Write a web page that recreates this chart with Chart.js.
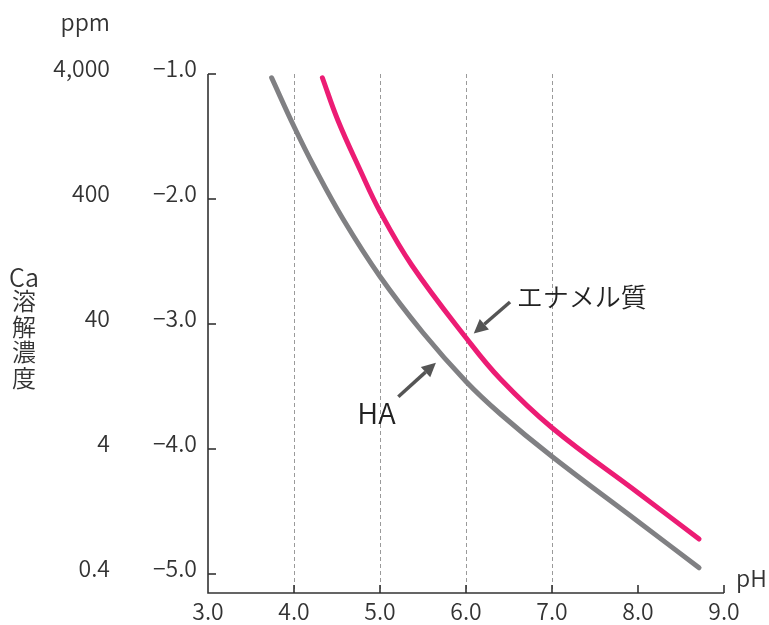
<!DOCTYPE html>
<html>
<head>
<meta charset="utf-8">
<script src="https://cdn.jsdelivr.net/npm/chart.js@4/dist/chart.umd.min.js"></script>
<style>
html,body{margin:0;padding:0;background:#fff;}
#c{display:block;}
</style>
</head>
<body>
<canvas id="c" width="769" height="625"></canvas>
<script>
// ---- data ----
const haPH   = [3.74, 4.0, 4.24, 4.57, 5.0, 5.5, 6.0, 6.4, 7.0, 8.0, 8.71];
const haLog  = [-1.03, -1.42, -1.75, -2.16, -2.62, -3.07, -3.46, -3.72, -4.06, -4.58, -4.95];
const enPH   = [4.33, 4.51, 4.77, 5.0, 5.37, 6.0, 6.4, 7.0, 8.0, 8.71];
const enLog  = [-1.03, -1.37, -1.77, -2.10, -2.53, -3.11, -3.44, -3.83, -4.35, -4.72];
const xTickValues = [3, 4, 5, 6, 7, 8, 9];
const xTickLabels = ['3.0', '4.0', '5.0', '6.0', '7.0', '8.0', '9.0'];
const yTickValues = [-1, -2, -3, -4, -5];
const yTickLabels = ['\u22121.0', '\u22122.0', '\u22123.0', '\u22124.0', '\u22125.0'];
const ppmLabels   = ['4,000', '400', '40', '4', '0.4'];
const dashedX     = [4, 5, 6, 7];
const seriesNames = ['HA', 'エナメル質'];
const yAxisTitle  = ['Ca', '溶', '解', '濃', '度'];

const FONT = '"Noto Sans CJK JP", "Noto Sans", sans-serif';
const TXT = '#333333';
const W8 = '350';

const pts = (xs, ys) => xs.map((x, i) => ({x: x, y: ys[i]}));

const deco = {
  id: 'deco',
  beforeDatasetsDraw(chart) {
    const ctx = chart.ctx, xs = chart.scales.x, ys = chart.scales.y;
    ctx.save();
    ctx.strokeStyle = '#9a9a9a';
    ctx.lineWidth = 1;
    ctx.setLineDash([4, 3]);
    const top = ys.getPixelForValue(-1), bot = chart.chartArea.bottom;
    dashedX.forEach(v => {
      const px = Math.round(xs.getPixelForValue(v)) + 0.5;
      ctx.beginPath(); ctx.moveTo(px, top); ctx.lineTo(px, bot); ctx.stroke();
    });
    ctx.restore();
  },
  afterDatasetsDraw(chart) {
    const ctx = chart.ctx, xs = chart.scales.x, ys = chart.scales.y;
    const ca = chart.chartArea;
    const left = ca.left, bot = ca.bottom;
    const top = ys.getPixelForValue(-1);
    ctx.save();
    // axes
    ctx.strokeStyle = '#333';
    ctx.lineWidth = 1.6;
    ctx.setLineDash([]);
    ctx.beginPath();
    ctx.moveTo(left, top); ctx.lineTo(left, bot); ctx.lineTo(xs.getPixelForValue(9), bot);
    ctx.stroke();
    // y ticks
    yTickValues.forEach(v => {
      const py = ys.getPixelForValue(v);
      ctx.beginPath(); ctx.moveTo(left, py); ctx.lineTo(left + 8, py); ctx.stroke();
    });
    // x ticks
    xTickValues.slice(1).forEach(v => {
      const px = xs.getPixelForValue(v);
      ctx.beginPath(); ctx.moveTo(px, bot); ctx.lineTo(px, bot - 8); ctx.stroke();
    });
    // labels
    ctx.fillStyle = TXT;
    ctx.font = W8 + ' 23px ' + FONT;
    ctx.textBaseline = 'middle';
    ctx.textAlign = 'right';
    yTickValues.forEach((v, i) => {
      const py = ys.getPixelForValue(v) - 6;
      ctx.fillText(yTickLabels[i], left - 11, py);
      ctx.fillText(ppmLabels[i], 110, py);
    });
    ctx.fillText('ppm', 110, 22);
    ctx.textAlign = 'center';
    xTickValues.forEach((v, i) => {
      ctx.fillText(xTickLabels[i], xs.getPixelForValue(v), bot + 18);
    });
    ctx.textAlign = 'left';
    ctx.fillText('pH', 736, 578);
    // vertical axis title
    ctx.textAlign = 'center';
    ctx.font = W8 + ' 25px ' + FONT;
    ctx.fillText(yAxisTitle[0], 24, 277);
    ctx.font = W8 + ' 24px ' + FONT;
    for (let i = 1; i < yAxisTitle.length; i++) {
      ctx.fillText(yAxisTitle[i], 24, 301 + (i - 1) * 25.5);
    }
    // arrows
    const arrow = (x0, y0, x1, y1) => {
      const ax = xs.getPixelForValue(x0), ay = ys.getPixelForValue(y0);
      const bx = xs.getPixelForValue(x1), by = ys.getPixelForValue(y1);
      const ang = Math.atan2(by - ay, bx - ax);
      const L = 14, W = 7;
      const hx = bx - L * Math.cos(ang), hy = by - L * Math.sin(ang);
      ctx.strokeStyle = '#555'; ctx.fillStyle = '#555';
      ctx.lineWidth = 3.5; ctx.lineCap = 'butt';
      ctx.beginPath(); ctx.moveTo(ax, ay); ctx.lineTo(hx, hy); ctx.stroke();
      ctx.beginPath();
      ctx.moveTo(bx, by);
      ctx.lineTo(hx + W * Math.sin(ang), hy - W * Math.cos(ang));
      ctx.lineTo(hx - W * Math.sin(ang), hy + W * Math.cos(ang));
      ctx.closePath(); ctx.fill();
    };
    arrow(6.512, -2.824, 6.09, -3.075);
    arrow(5.213, -3.582, 5.65, -3.31);
    // annotation text
    ctx.fillStyle = '#222';
    ctx.textAlign = 'left';
    ctx.font = W8 + ' 26px ' + FONT;
    ctx.fillText(seriesNames[1], xs.getPixelForValue(6.59), ys.getPixelForValue(-2.784));
    ctx.textAlign = 'center';
    ctx.font = W8 + ' 29px ' + FONT;
    ctx.fillText(seriesNames[0], xs.getPixelForValue(4.96), ys.getPixelForValue(-3.712));
    ctx.restore();
  }
};

new Chart(document.getElementById('c'), {
  type: 'line',
  data: {
    datasets: [
      {label: seriesNames[0], data: pts(haPH, haLog), borderColor: '#808083', borderWidth: 5,
       pointRadius: 0, tension: 0.4, borderCapStyle: 'round', borderJoinStyle: 'round', fill: false, clip: false},
      {label: seriesNames[1], data: pts(enPH, enLog), borderColor: '#EC1C74', borderWidth: 5,
       pointRadius: 0, tension: 0.4, borderCapStyle: 'round', borderJoinStyle: 'round', fill: false, clip: false}
    ]
  },
  options: {
    responsive: false,
    animation: false,
    devicePixelRatio: 1,
    layout: {padding: {left: 208, right: 45, top: 74, bottom: 32}},
    plugins: {legend: {display: false}, tooltip: {enabled: false}},
    scales: {
      x: {type: 'linear', min: 3, max: 9, display: false},
      y: {type: 'linear', min: -5.152, max: -1, display: false}
    }
  },
  plugins: [deco]
});
</script>
</body>
</html>
